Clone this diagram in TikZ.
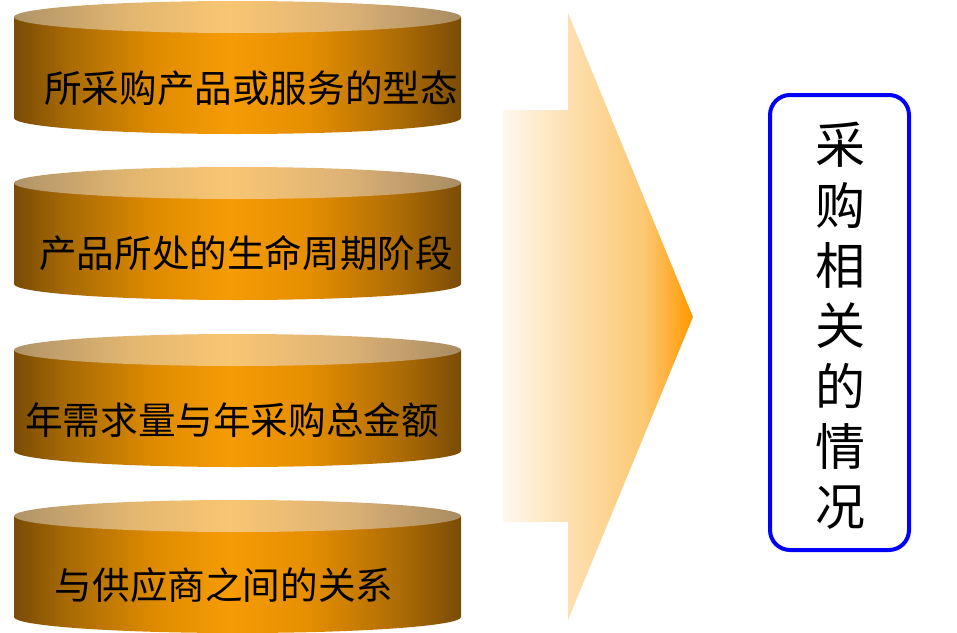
\documentclass[tikz,border=0pt]{standalone}
\usepackage{fontspec}
\setmainfont{Noto Sans CJK SC}
\definecolor{sideA}{HTML}{7A4C06}
\definecolor{sideB}{HTML}{A86A05}
\definecolor{sideC}{HTML}{E08C00}
\definecolor{sideD}{HTML}{F59B05}
\definecolor{sideE}{HTML}{E58E00}
\definecolor{sideF}{HTML}{AE6C05}
\definecolor{topA}{HTML}{B09468}
\definecolor{topB}{HTML}{E2B670}
\definecolor{topC}{HTML}{F8C672}
\definecolor{topD}{HTML}{DDB276}
\definecolor{topE}{HTML}{A88C62}
\definecolor{arrA}{HTML}{FFF8EE}
\definecolor{arrB}{HTML}{FDE0B2}
\definecolor{arrC}{HTML}{FCC872}
\definecolor{arrD}{HTML}{FF9900}
\definecolor{boxblue}{HTML}{0000FF}
\pgfdeclarehorizontalshading{cylside}{100bp}{color(0bp)=(sideA); color(25bp)=(sideA); color(31bp)=(sideB); color(41bp)=(sideC); color(49bp)=(sideD); color(58bp)=(sideE); color(68bp)=(sideF); color(75bp)=(sideA); color(100bp)=(sideA)}
\pgfdeclarehorizontalshading{cyltop}{100bp}{color(0bp)=(topA); color(25bp)=(topA); color(38bp)=(topB); color(49bp)=(topC); color(62bp)=(topD); color(75bp)=(topE); color(100bp)=(topE)}
\pgfdeclarehorizontalshading{arrshade}{100bp}{color(0bp)=(arrA); color(25bp)=(arrA); color(42bp)=(arrB); color(62bp)=(arrC); color(75bp)=(arrD); color(100bp)=(arrD)}
\tikzset{
  cyltext/.style={inner sep=0pt, font=\fontsize{37.6}{40}\selectfont, text=black},
  sidetext/.style={inner sep=0pt, align=center, font=\fontsize{50}{60.3}\selectfont, text=black},
  bluebox/.style={draw=boxblue, line width=4pt, rounded corners=20pt, fill=white, minimum width=139pt, minimum height=455pt, inner sep=0pt}
}
\newcommand\mycyl[1]{%
  \shade[shading=cylside] (14,-#1) -- (14,-#1-101) arc[start angle=180,end angle=360,x radius=223.5,y radius=16] -- (461,-#1) -- cycle;
  \shade[shading=cyltop] (237.5,-#1) ellipse[x radius=223.5, y radius=16];
}
\begin{document}
\begin{tikzpicture}[x=1pt,y=1pt]
\useasboundingbox (0,0) rectangle (957,-632);
\mycyl{17}
\mycyl{183}
\mycyl{350}
\mycyl{516}
\node[cyltext] (t1) at (251,-88) {所采购产品或服务的型态};
\node[cyltext] (t2) at (246,-253) {产品所处的生命周期阶段};
\node[cyltext] (t3) at (232,-420) {年需求量与年采购总金额};
\node[cyltext] (t4) at (224,-585) {与供应商之间的关系};
\shade[shading=arrshade] (503,-110) -- (568,-110) -- (568,-13) -- (693,-317) -- (568,-620) -- (568,-522) -- (503,-522) -- cycle;
\node[bluebox] (box) at (839.5,-322.5) {};
\node[sidetext] (s) at (840,-326) {采\\购\\相\\关\\的\\情\\况};
\end{tikzpicture}
\end{document}
